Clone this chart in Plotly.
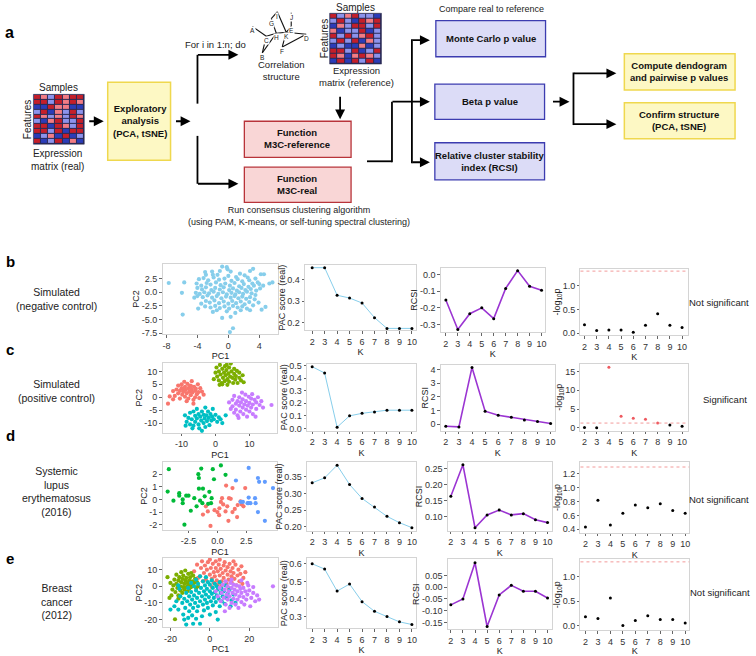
import plotly.graph_objects as go

W, H = 756, 656
FONT = "Liberation Sans, Arial, sans-serif"

# ---------------- data ----------------
K = [2, 3, 4, 5, 6, 7, 8, 9, 10]

pac_b = [0.455, 0.455, 0.327, 0.314, 0.291, 0.223, 0.173, 0.173, 0.173]
pac_c = [0.49, 0.44, 0.01, 0.10, 0.12, 0.13, 0.145, 0.145, 0.145]
pac_d = [0.332, 0.347, 0.385, 0.327, 0.285, 0.259, 0.231, 0.212, 0.197]
pac_e = [0.60, 0.57, 0.445, 0.485, 0.385, 0.33, 0.30, 0.27, 0.255]

rcsi_b = [-0.153, -0.33, -0.235, -0.20, -0.265, -0.083, 0.024, -0.07, -0.094]
rcsi_c = [-0.15, -0.2, 4.15, 0.95, 0.65, 0.5, 0.3, 0.2, 0.05]
rcsi_d = [0.164, 0.262, 0.066, 0.106, 0.121, 0.106, 0.11, 0.091, 0.082]
rcsi_e = [-0.075, -0.05, 0.104, -0.167, -0.033, 0.008, -0.017, -0.017, -0.046]

pval_b = [0.18, 0.06, 0.07, 0.07, 0.02, 0.17, 0.41, 0.17, 0.12]
pval_c = [0.1, 0.05, 16.1, 3.1, 2.6, 2.3, 1.35, 0.8, 0.45]
pval_d = [0.43, 0.82, 0.46, 0.63, 0.75, 0.71, 0.77, 0.67, 0.63]
pval_e = [0.18, 0.14, 0.56, 0.0, 0.1, 0.2, 0.12, 0.12, 0.05]
SIG = 1.301  # -log10(0.05)

pca_b = [(-7.7, 1.7), (-5.7, 1.8), (-6.0, -0.1), (-5.9, -4.1), (-4.4, -1.0), (-0.8, -4.7), (0.3, -4.5),
         (0.6, -6.6), (0.2, -7.3), (4.8, -2.7), (5.7, 1.8), (5.3, 1.6), (-3.9, -3.0), (4.3, -3.2), (2.8, -3.3),
         (-2.0, -3.6), (-0.8, 4.7), (-0.2, 4.6), (-0.1, 4.2), (-2.1, 3.8), (-2.0, 3.2), (-1.1, 3.9), (0.3, 3.8),
         (1.5, 3.4), (3.2, 4.3), (2.8, 3.9), (4.2, 3.3), (4.6, 3.3), (-3.0, 3.7), (-2.9, 3.2), (-1.4, 3.2),
         (0.0, 3.0), (1.0, 2.8), (2.1, 3.1), (2.5, 2.7), (3.5, 2.5), (3.8, 1.8),
         (-3.8, 2.4), (-3.2, 2.6), (-2.6, 2.2), (-1.9, 2.7), (-1.2, 2.3), (-0.5, 2.5), (0.4, 2.1), (1.2, 2.4),
         (1.8, 2.0), (2.7, 2.2), (3.1, 1.6), (4.0, 1.5),
         (-4.1, 1.6), (-3.5, 1.2), (-2.8, 1.7), (-2.3, 1.4), (-1.6, 1.8), (-1.0, 1.3), (-0.4, 1.6), (0.2, 1.2),
         (0.8, 1.7), (1.4, 1.1), (2.0, 1.5), (2.6, 1.0), (3.3, 1.2), (4.5, 1.2),
         (-4.0, 0.8), (-3.4, 0.5), (-2.9, 0.9), (-2.2, 0.4), (-1.7, 0.8), (-1.1, 0.5), (-0.6, 0.9), (0.1, 0.4),
         (0.6, 0.7), (1.1, 0.3), (1.7, 0.8), (2.2, 0.4), (2.9, 0.6), (3.6, 0.3), (4.1, 0.7),
         (-4.2, -0.1), (-3.7, -0.3), (-3.1, 0.0), (-2.5, -0.2), (-1.9, 0.1), (-1.3, -0.3), (-0.7, 0.0), (-0.2, -0.4),
         (0.4, -0.1), (0.9, -0.4), (1.4, 0.0), (1.9, -0.3), (2.4, 0.1), (3.0, -0.2), (3.5, -0.5),
         (-4.0, -0.7), (-3.3, -0.9), (-2.7, -0.6), (-2.1, -1.0), (-1.5, -0.7), (-0.9, -1.1), (-0.3, -0.8),
         (0.3, -1.0), (0.8, -0.7), (1.3, -1.1), (1.8, -0.8), (2.3, -1.2), (2.8, -0.9), (3.4, -1.3),
         (-3.5, -2.1), (-2.9, -1.6), (-2.4, -1.9), (-1.8, -1.5), (-1.2, -2.0), (-0.6, -1.7), (0.0, -2.1),
         (0.5, -1.6), (1.0, -2.0), (1.6, -1.7), (2.1, -2.2), (2.7, -1.8), (3.2, -2.4), (3.9, -1.9),
         (-3.0, -2.6), (-2.3, -2.8), (-1.7, -2.5), (-1.1, -2.9), (-0.5, -2.6), (0.1, -3.0), (0.6, -2.5),
         (1.2, -2.8), (1.8, -2.6), (2.4, -3.0), (-0.2, -3.5), (0.9, -3.8), (1.6, -3.3), (-1.5, -3.3)]

pca_c_red = [(-14, -2.5), (-13.5, 0.3), (-12.5, 2.4), (-12, 0.5), (-11.5, 3), (-11, 1.5), (-11, 4.5), (-10.5, -0.5),
             (-10.5, 2.5), (-10, 5), (-10, 3.5), (-9.8, 1), (-9.5, 2.2), (-9.2, 6), (-9, 4), (-9, 0.2), (-8.8, 2.8),
             (-8.5, 1.5), (-8.3, 5.2), (-8, 3.5), (-8, -0.5), (-7.7, 2.2), (-7.5, 4.5), (-7.3, 0.8), (-7, 3),
             (-7, 6.2), (-6.8, 1.8), (-6.5, -1), (-6.3, 4), (-6, 2.5), (-6, 0), (-5.8, 3.3), (-5.5, 1.2), (-5.2, 5),
             (-5, 2), (-4.8, -0.3), (-4.5, 3.5), (-4, 2.2), (-3.5, 1), (-6.5, -2.5), (-8.5, -1.5), (-12.5, -0.8),
             (-9.3, 3.3), (-7.2, 4.3)]
pca_c_green = [(-0.5, 7), (0, 9.5), (0.3, 11.5), (0.5, 8), (1, 6.5), (1, 10), (1.3, 12.5), (1.5, 8.8), (1.8, 5.5),
               (2, 11), (2.2, 7.5), (2.5, 9.5), (2.7, 6.2), (2.8, 12), (3, 8.5), (3.2, 10.5), (3.5, 4.8), (3.5, 7),
               (3.8, 9.2), (4, 11.5), (4, 6), (4.3, 8), (4.5, 13), (4.7, 10), (5, 7.5), (5.2, 5.5), (5.5, 9),
               (5.5, 11), (5.8, 6.8), (6, 8.2), (6.3, 10.2), (6.5, 5.5), (7, 7.5), (7, 9.5), (7.5, 6.5), (8, 8.5),
               (8.3, 5.8), (2, 5), (3.3, 12.5), (1.2, 4.8)]
pca_c_teal = [(-9, -7), (-8.5, -9.5), (-8, -8), (-7.5, -6), (-7.5, -10.5), (-7, -8.5), (-6.5, -11), (-6.5, -5.5),
              (-6, -7.2), (-6, -9.5), (-5.5, -4.5), (-5.5, -8.2), (-5, -6.5), (-5, -10.5), (-4.8, -12), (-4.5, -7.5),
              (-4.2, -9), (-4, -5.5), (-4, -13), (-3.5, -6.8), (-3.5, -10), (-3.2, -8.2), (-3, -4), (-3, -11.5),
              (-2.7, -7), (-2.5, -9.2), (-2.2, -5.5), (-2, -8), (-1.8, -10.8), (-1.5, -6.5), (-1.2, -9), (-1, -7.5),
              (-0.8, -4.5), (-0.5, -8.5), (0, -6.8), (0.5, -9.5), (1, -7.8), (2, -10), (3, -7), (1.5, -8.5),
              (-8.8, -11), (-6.8, -12)]
pca_c_purple = [(4, -2), (4.5, -4.5), (5, -1), (5, -3.5), (5.5, -6), (5.5, 0.5), (6, -2.5), (6, -4.8), (6.5, -1.5),
                (6.5, -7), (7, -3.2), (7, 0), (7.3, -5.5), (7.5, -2), (8, -4), (8, -0.8), (8.2, -6.5), (8.5, -2.8),
                (8.8, 1), (9, -4.8), (9, -1.5), (9.3, -7.5), (9.5, -3.2), (9.8, 0.2), (10, -5.5), (10, -2.2),
                (10.5, -0.5), (10.5, -4), (11, -6.5), (11, -2.8), (11.5, -1), (12, -4.5), (12, -2), (12.5, 0),
                (13, -3), (13.5, -1.5), (14, -4), (16.5, -3), (7.8, 1.8), (10.8, 1.2), (6.8, -8), (11.8, -7.5)]

pca_d_green = [(-4.2, 2.4), (-1.4, 2.45), (-0.4, 2.4), (0.3, 2.7), (-1.65, 2.0), (0.7, 1.95), (-1.6, 1.7),
               (-0.3, 1.6), (-4.3, 0.62), (-3.3, 0.5), (-3.3, 0.3), (-2.7, 0.3), (-2.5, 0.3), (-1.6, 0.85),
               (-1.25, 0.85), (-0.7, 0.6), (-1.1, 0.25), (-2.0, 0.1), (-1.5, -0.1), (-1.3, -0.3), (-3.8, -0.1),
               (-3.0, -0.3), (-3.0, 0.0), (-0.55, -0.3), (-2.3, -0.9), (-2.85, -2.0), (-1.8, -0.55), (-0.8, -0.35),
               (-0.5, 0.1)]
pca_d_red = [(0.75, 1.1), (1.3, 0.9), (2.4, 0.9), (0.4, 0.1), (0.3, -0.2), (1.0, 0.1), (1.15, 0.05), (0.5, -0.4),
             (0.17, -0.7), (-0.25, -0.85), (0.0, -1.0), (-1.25, -1.2), (-1.0, -0.55), (-0.83, -0.95), (-0.6, -2.1),
             (0.7, -0.95), (1.3, -1.0), (0.95, -1.7), (1.7, -1.4), (1.5, -0.75), (2.0, -0.15), (1.75, -0.45),
             (2.1, -0.4), (2.25, -0.55), (0.85, -0.55), (0.15, -1.25)]
pca_d_blue = [(2.7, 2.5), (1.6, 1.5), (3.5, 1.7), (3.6, 1.4), (4.1, 1.4), (4.8, 0.9), (2.0, -0.2), (2.2, -0.2),
              (2.7, -0.3), (2.85, -0.3), (3.25, 0.1), (3.3, -0.3), (2.7, 0.15), (3.5, -1.0), (4.1, -1.7), (2.6, -0.3)]

pca_e_red = [(-8, 9), (-6.5, 13), (-5, 6), (-4.5, 11), (-4, 15), (-3, 8), (-2.5, 12.5), (-2, 4), (-1.5, 10),
             (-1, 14.5), (0, 7), (0, 16), (0.5, 11), (1, 4.5), (1.5, 13.5), (2, 8.5), (2.5, 6), (3, 15), (3, 11),
             (3.5, 3.5), (4, 9), (4.5, 13), (5, 6.5), (5, 16), (5.5, 10.5), (6, 3), (6.5, 8), (7, 12.5), (7, 5),
             (7.5, 14.5), (8, 9.5), (8.5, 1.5), (9, 7), (9, 11.5), (9.5, 4), (10, 13.5), (10.5, 9), (11, 2.5),
             (11, 6), (11.5, 11), (12, 8), (12.5, 4.5), (13, 13), (13.5, 0.5), (14, 6.5), (14.5, 10), (15, 3),
             (15.5, 7.5), (16, 12), (17, 5), (18, 8.5), (2, 2), (-3.5, 3), (6, 0.5), (9.5, -1), (16.5, 1.5),
             (12, 15), (-6, 5), (4, 1), (1, -0.5)]
pca_e_green = [(-21.5, 5.5), (-20, 2), (-19, -2), (-18.5, 0.5), (-18, 4), (-17.5, -3.5), (-17, 7), (-17, 1.5),
               (-16.5, -1), (-16, 3.5), (-16, -5.5), (-15.5, 5.5), (-15, 0), (-15, -2.5), (-14.5, 8.5), (-14.5, 2.5),
               (-14, -4), (-14, 4.5), (-13.5, -0.5), (-13.5, 6.5), (-13, 1.5), (-13, -2), (-12.5, 3.5), (-12.5, 9.5),
               (-12, -0.5), (-12, 5), (-11.5, 2), (-11.5, -3), (-11, 7.5), (-11, 0.5), (-10.5, 3.5), (-10.5, -1.5),
               (-10, 5.5), (-10, 1), (-9.5, 8), (-9.5, -0.5), (-9, 3), (-8.5, 6.5), (-8.5, 0.5), (-8, 2),
               (-7.5, 4.5), (-7, -1), (-6.5, 2.5), (-6, 0), (-17.7, -19.8), (-19.5, -5.5), (-20.5, -7), (-16, -7.5)]
pca_e_teal = [(-18, -12), (-17, -9), (-16, -14), (-15, -6), (-14, -10), (-13.5, -17), (-13, -7.5), (-12.5, -13),
              (-12, -4), (-11.5, -9), (-11, -1), (-10.5, -15), (-10.5, -6), (-10, -11), (-9.5, 2), (-9.5, -3.5),
              (-9, -8), (-9, -17.5), (-8.5, -22.5), (-8.5, -13), (-8, 0), (-8, -5.5), (-7.5, -10), (-7, 4),
              (-7, -2.5), (-6.5, -7), (-6.5, -15), (-6, -12), (-6, 1.5), (-5.5, -4), (-5, -9), (-5, -22.5), (-5, 6),
              (-4.5, -1), (-4, -6), (-4, -18), (-3.5, 3), (-3.5, -11), (-3, -3), (-3, -14.5), (-2.5, 0.5), (-2.5, -8),
              (-2, -5), (-2, 5.5), (-1.5, -10), (-1.5, -1.5), (-1, 2.5), (-1, -13), (-0.5, -6.5), (0, -3), (0, 1),
              (0, -17), (0.5, -9), (1, -4.5), (1, 3.5), (1.5, -11.5), (1.5, -1), (2, -7), (2.5, 1.5), (2.5, -3.5),
              (3, -9.5), (3, -15.5), (3.5, -5.5), (3.5, 0), (4, -2), (4.5, -7.5), (5, -12), (5, 2.5), (5.5, -4),
              (6, -9), (6, -1.5), (6.5, -6), (7, -3), (7.5, -10.5), (8, 0.5), (8.5, -7), (9, -4.5), (10, -2),
              (10.5, -12), (11, -8.5), (12, -5), (13, -10), (-13, -20), (-11, -19), (-7, -19.5), (4, -20),
              (-15.5, -1.5), (-16, 0.5), (-12, -23), (-20, -14)]
pca_e_purple = [(3, -3), (4, -6), (5, -1), (5.5, -9), (6, -4), (6.5, 1), (7, -7), (7.5, -2), (7.6, -15), (8, -11),
                (8.5, -5), (9, 0), (9, -8), (9.5, -3), (10, -13), (10, -6), (10.5, 2), (11, -1), (11, -10),
                (11.5, -4), (12, -7.5), (12, 1), (12.5, -2), (13, -11), (13, -5), (13.5, 0.5), (14, -8), (14, -3),
                (14.5, -13), (15, -6), (15, 0), (15.5, -1.5), (16, -9.5), (16, -4), (17, -6.5), (17, -1),
                (17.5, -11), (18, -3), (18.5, -8), (19, -5), (19.5, 0.5), (20, -2.5), (21, -7), (22, -4), (23, -9),
                (24, -5.5), (25, -8), (32, 0), (20.5, -12), (19, 2), (8, 3), (11, 4), (16, 3.5), (22, -0.5)]

# expression matrices (-2 dark blue, -1 light blue, 1 light red, 2 dark red)
expr_real = [[2, 1, -1, 2, 1, 2, 2],
             [2, 2, -1, 2, 1, 2, 1],
             [-2, -2, 2, 1, 1, -2, -2],
             [-1, 2, -2, 1, -1, 2, -1],
             [2, 1, -1, 1, -1, 2, 1],
             [-1, -2, 1, 2, -1, -1, 2],
             [2, 2, -2, 2, 1, -1, 2],
             [2, 2, -1, 2, -2, 2, 2],
             [-2, -1, 1, -2, 2, -2, -1],
             [2, -2, -1, 2, -2, 1, -2]]
expr_ref = [[2, -1, 1, 2, -1, -1, -2],
            [-1, 2, -1, -2, 2, 1, 2],
            [-2, 1, -1, 2, 2, -1, 2],
            [1, -2, -1, -1, 2, -2, -1],
            [2, -1, 2, -1, 1, 2, -1],
            [-1, 2, -1, 2, -2, 1, -1],
            [-2, -1, -2, -2, 1, -2, -1],
            [2, 2, -1, 2, -2, -1, 2],
            [2, 1, -2, 1, 2, 1, -1],
            [-2, 2, -2, 2, -1, 2, -2]]

net_nodes = {"A": (253, 24), "B": (263, 51), "C": (267, 34), "D": (307, 32), "E": (292, 24), "F": (283, 45),
             "G": (272, 16), "H": (277, 31), "I": (278, 9), "J": (292, 10), "K": (287, 30)}
net_edges = [("A", "C"), ("C", "B"), ("C", "H"), ("B", "H"), ("H", "G"), ("G", "I"), ("I", "K"), ("H", "K"),
             ("J", "E"), ("E", "K"), ("K", "D"), ("D", "F"), ("F", "K")]

# ---------------- helpers ----------------
def X(p):
    return p / W


def Y(p):
    return 1 - p / H


shapes, anns = [], []


def txt(x, y, s, size=10, angle=0, color="#222222", xanchor="center", yanchor="middle"):
    anns.append(dict(x=X(x), y=Y(y), xref="paper", yref="paper", text=s, showarrow=False, textangle=angle,
                     font=dict(size=size, color=color, family=FONT), xanchor=xanchor, yanchor=yanchor,
                     align="center"))


def line(x0, y0, x1, y1, w=1.8, color="black"):
    shapes.append(dict(type="line", xref="paper", yref="paper", x0=X(x0), y0=Y(y0), x1=X(x1), y1=Y(y1),
                       line=dict(color=color, width=w)))


def arrow(x0, y0, x1, y1):
    anns.append(dict(x=X(x1), y=Y(y1), xref="paper", yref="paper", ax=x0 - x1, ay=y0 - y1, text="",
                     showarrow=True, arrowhead=2, arrowsize=1.1, arrowwidth=1.8, arrowcolor="black", standoff=0))


def box(x0, y0, x1, y1, fill, border, w=1.3, layer="above"):
    shapes.append(dict(type="rect", xref="paper", yref="paper", x0=X(x0), y0=Y(y1), x1=X(x1), y1=Y(y0),
                       fillcolor=fill, line=dict(color=border, width=w), layer=layer))


fig = go.Figure()
layout = {}

TXTC = "#333333"
AX = dict(showline=True, mirror=True, linecolor="#d4d4d4", linewidth=1, ticks="outside", ticklen=2.5,
          tickcolor="#666666", tickwidth=0.8, showgrid=False, zeroline=False, color=TXTC,
          tickfont=dict(size=9, color=TXTC, family=FONT))


def ref(i):
    return ("x", "y") if i == 1 else (f"x{i}", f"y{i}")


def setup(i, dom, xr, yr, xt, yt, xtitle, ytitle, xtt=None, ytt=None):
    x0, x1, y0, y1 = dom
    xa = dict(AX, domain=[X(x0), X(x1)], range=xr, tickvals=xt, anchor=ref(i)[1],
              title=dict(text=xtitle, font=dict(size=9, color="#222222", family=FONT), standoff=3))
    ya = dict(AX, domain=[Y(y1), Y(y0)], range=yr, tickvals=yt, anchor=ref(i)[0],
              title=dict(text=ytitle, font=dict(size=9, color="#222222", family=FONT), standoff=0))
    if xtt:
        xa["ticktext"] = xtt
    if ytt:
        ya["ticktext"] = ytt
    layout["xaxis" if i == 1 else f"xaxis{i}"] = xa
    layout["yaxis" if i == 1 else f"yaxis{i}"] = ya


def pts(i, data, color, size=4.2):
    xr, yr = ref(i)
    fig.add_trace(go.Scatter(x=[p[0] for p in data], y=[p[1] for p in data], mode="markers",
                             marker=dict(color=color, size=size, line=dict(width=0)), xaxis=xr, yaxis=yr,
                             hoverinfo="skip"))


def curve(i, vals, color, width):
    xr, yr = ref(i)
    fig.add_trace(go.Scatter(x=K, y=vals, mode="lines+markers", line=dict(color=color, width=width),
                             marker=dict(color="black", size=3), xaxis=xr, yaxis=yr, hoverinfo="skip"))


def pdots(i, vals):
    xr, yr = ref(i)
    cols = ["#ee5a60" if v > SIG else "black" for v in vals]
    fig.add_trace(go.Scatter(x=K, y=vals, mode="markers", marker=dict(color=cols, size=3),
                             xaxis=xr, yaxis=yr, hoverinfo="skip"))
    shapes.append(dict(type="line", xref=f"{xr} domain", yref=yr, x0=0, x1=1, y0=SIG, y1=SIG,
                       line=dict(color="#f29a9a", width=1, dash="dot")))


SKY = "#87CEEB"
PURP = "#9b35d2"
C4 = ["#F8766D", "#7CAE00", "#00BFC4", "#C77CFF"]
C3 = ["#F8766D", "#00BA38", "#619CFF"]
LOGP = "-log<sub>10</sub>p"

# ---------------- row b ----------------
setup(1, (163, 279, 267, 339), [-8.5, 6.45], [-7.7, 5.2], [-8, -4, 0, 4], [-7.5, -5, -2.5, 0, 2.5], "PC1", "PC2",
      xtt=["-8", "-4", "0", "4"], ytt=["-7.5", "-5.0", "-2.5", "0.0", "2.5"])
pts(1, pca_b, SKY)
setup(2, (306, 417, 268, 335), [1.44, 10.32], [0.164, 0.468], K, [0.2, 0.3, 0.4], "K", "PAC score (real)",
      ytt=["0.2", "0.3", "0.4"])
curve(2, pac_b, SKY, 1)
setup(3, (442, 546, 271, 337), [1.58, 10.25], [-0.347, 0.041], K, [-0.3, -0.2, -0.1, 0.0], "K", "RCSI",
      ytt=["-0.3", "-0.2", "-0.1", "0.0"])
curve(3, rcsi_b, PURP, 1.6)
setup(4, (582, 690, 272, 340), [1.67, 10.5], [-0.04, 1.35], K, [0, 0.5, 1.0], "K", LOGP,
      ytt=["0.0", "0.5", "1.0"])
pdots(4, pval_b)

# ---------------- row c ----------------
setup(5, (163, 278, 368, 440), [-15.6, 18.2], [-13.8, 13.4], [-10, 0, 10], [-10, -5, 0, 5, 10], "PC1", "PC2",
      xtt=["-10", "0", "10"], ytt=["-10", "-5", "0", "5", "10"])
pts(5, pca_c_red, C4[0])
pts(5, pca_c_green, C4[1])
pts(5, pca_c_teal, C4[2])
pts(5, pca_c_purple, C4[3])
setup(6, (308, 417, 369, 438), [1.6, 10.32], [-0.02, 0.515], K, [0, 0.1, 0.2, 0.3, 0.4, 0.5], "K",
      "PAC score (real)", ytt=["0.0", "0.1", "0.2", "0.3", "0.4", "0.5"])
curve(6, pac_c, SKY, 1)
setup(7, (442, 556, 370, 438), [1.62, 10.3], [-0.5, 4.36], K, [0, 1, 2, 3, 4], "K", "RCSI")
curve(7, rcsi_c, PURP, 1.6)
setup(8, (582, 690, 369, 438), [1.67, 10.5], [-0.8, 17.1], K, [0, 5, 10, 15], "K", LOGP)
pdots(8, pval_c)

# ---------------- row d ----------------
setup(9, (163, 278, 470, 539), [-4.74, 5.17], [-2.4, 2.95], [-2.5, 0, 2.5], [-2, -1, 0, 1, 2], "PC1", "PC2",
      xtt=["-2.5", "0.0", "2.5"], ytt=["-2", "-1", "0", "1", "2"])
pts(9, pca_d_red, C3[0])
pts(9, pca_d_green, C3[1])
pts(9, pca_d_blue, C3[2])
setup(10, (308, 417, 470, 540), [1.6, 10.32], [0.188, 0.394], K, [0.2, 0.25, 0.3, 0.35], "K", "PAC score (real)",
      ytt=["0.20", "0.25", "0.30", "0.35"])
curve(10, pac_d, SKY, 1)
setup(11, (449, 553, 470, 540), [1.75, 10.33], [0.057, 0.27], K, [0.1, 0.15, 0.2, 0.25], "K", "RCSI",
      ytt=["0.10", "0.15", "0.20", "0.25"])
curve(11, rcsi_d, PURP, 1.6)
setup(12, (582, 691, 470, 542), [1.6, 10.32], [0.35, 1.37], K, [0.4, 0.6, 0.8, 1.0, 1.2], "K", LOGP,
      ytt=["0.4", "0.6", "0.8", "1.0", "1.2"])
pdots(12, pval_d)

# ---------------- row e ----------------
setup(13, (163, 279, 568, 639), [-24, 34.7], [-24.7, 17], [-20, 0, 20], [-20, -10, 0, 10], "PC1", "PC2",
      xtt=["-20", "0", "20"], ytt=["-20", "-10", "0", "10"])
pts(13, pca_e_red, C4[0])
pts(13, pca_e_green, C4[1])
pts(13, pca_e_teal, C4[2])
pts(13, pca_e_purple, C4[3])
setup(14, (308, 417, 568, 640), [1.6, 10.32], [0.233, 0.633], K, [0.3, 0.4, 0.5, 0.6], "K", "PAC score (real)",
      ytt=["0.3", "0.4", "0.5", "0.6"])
curve(14, pac_e, SKY, 1)
setup(15, (449, 553, 569, 641), [1.75, 10.33], [-0.179, 0.12], K, [-0.15, -0.1, -0.05, 0, 0.05], "K", "RCSI",
      ytt=["-0.15", "-0.10", "-0.05", "0.00", "0.05"])
curve(15, rcsi_e, PURP, 1.6)
setup(16, (582, 691, 569, 642), [1.6, 10.32], [-0.1, 1.36], K, [0, 0.5, 1.0], "K", LOGP,
      ytt=["0.0", "0.5", "1.0"])
pdots(16, pval_e)

# ---------------- heatmaps ----------------
HCS = [[0, "#2b3cb8"], [0.125, "#2b3cb8"], [0.125, "#8c93ec"], [0.5, "#8c93ec"], [0.5, "#f27c84"],
       [0.875, "#f27c84"], [0.875, "#c41f2a"], [1, "#c41f2a"]]


def heat(i, dom, z):
    x0, x1, y0, y1 = dom
    xr, yr = ref(i)
    box(x0 - 0.5, y0 - 0.5, x1 + 0.5, y1 + 0.5, "#2a2a55", "#2a2a55", w=0.5, layer="below")
    fig.add_trace(go.Heatmap(z=z, colorscale=HCS, zmin=-2, zmax=2, showscale=False, xgap=1, ygap=1,
                             xaxis=xr, yaxis=yr, hoverinfo="skip"))
    hid = dict(visible=False, showgrid=False, zeroline=False)
    layout[f"xaxis{i}"] = dict(hid, domain=[X(x0), X(x1)], anchor=yr, range=[-0.5, 6.5])
    layout[f"yaxis{i}"] = dict(hid, domain=[Y(y1), Y(y0)], anchor=xr, range=[9.5, -0.5])


heat(17, (34, 84, 94, 144), expr_real)
heat(18, (331, 382, 11, 62), expr_ref)

# ---------------- flowchart ----------------
txt(3, 30, "<b>a</b>", size=16, color="black", xanchor="left")
txt(59, 86, "Samples", size=10)
txt(27, 119, "Features", size=10, angle=-90)
txt(58, 161, "Expression<br>matrix (real)", size=10)
arrow(88, 121, 104, 121)
box(108, 81, 171, 161, "#fdf8c4", "#efd84e", w=1.5)
txt(140, 121, "<b>Exploratory<br>analysis<br>(PCA, tSNE)</b>", size=9.5, color="#111111")
arrow(175, 121, 191, 121)
line(198, 103, 198, 53)
arrow(197.1, 53, 239, 53)
line(198, 136, 198, 185)
arrow(197.1, 185, 239, 185)
txt(216, 42, "For i in 1:n; do", size=9.5)

for a, b in net_edges:
    (xa, ya), (xb, yb) = net_nodes[a], net_nodes[b]
    line(xa, ya, xb, yb, w=1.1, color="#111111")
for n, (xn, yn) in net_nodes.items():
    anns.append(dict(x=X(xn), y=Y(yn), xref="paper", yref="paper", text=n, showarrow=False,
                     font=dict(size=6.5, color="#222222", family=FONT), bgcolor="white", borderpad=0))
txt(282, 69, "Correlation<br>structure", size=9.5)

txt(356, 5, "Samples", size=10)
txt(325, 37, "Features", size=10, angle=-90)
txt(357, 75, "Expression<br>matrix (reference)", size=9.5)
arrow(341, 95, 341, 119)

box(245, 121, 352, 158, "#f9d6d6", "#b8343a", w=1.3)
txt(298, 139, "<b>Function<br>M3C-reference</b>", size=9.5, color="#111111")
box(245, 168, 352, 204, "#f9d6d6", "#b8343a", w=1.3)
txt(298, 186, "<b>Function<br>M3C-real</b>", size=9.5, color="#111111")
txt(300, 218, "Run consensus clustering algorithm<br>(using PAM, K-means, or self-tuning spectral clustering)",
    size=9)

line(368, 162, 393, 162)
line(393, 162.9, 393, 101)
arrow(392.1, 101, 431, 101)
line(413, 37.1, 413, 163.9)
arrow(412.1, 38, 431, 38)
arrow(412.1, 163, 431, 163)

txt(493, 6, "Compare real to reference", size=9)
box(437, 18, 547, 55, "#dcdcf7", "#3c3cb0", w=1.3)
txt(492, 36, "<b>Monte Carlo p value</b>", size=9.5, color="#111111")
box(436, 83, 546, 119, "#dcdcf7", "#3c3cb0", w=1.3)
txt(491, 101, "<b>Beta p value</b>", size=9.5, color="#111111")
box(436, 143, 546, 181, "#dcdcf7", "#3c3cb0", w=1.3)
txt(491, 162, "<b>Relative cluster stability<br>index (RCSI)</b>", size=9.5, color="#111111")

arrow(553, 101, 571, 101)
line(575, 71.1, 575, 124.9)
arrow(574.1, 72, 618, 72)
arrow(574.1, 124, 618, 124)
box(626, 52, 737, 89, "#fdf8c4", "#efd84e", w=1.5)
txt(681, 70, "<b>Compute dendogram<br>and pairwise p values</b>", size=9.5, color="#111111")
box(626, 102, 737, 139, "#fdf8c4", "#efd84e", w=1.5)
txt(681, 120, "<b>Confirm structure<br>(PCA, tSNE)</b>", size=9.5, color="#111111")

# ---------------- row labels ----------------
for lab, yy in [("b", 265), ("c", 355), ("d", 443), ("e", 568)]:
    txt(4, yy, f"<b>{lab}</b>", size=15, color="black", xanchor="left")
txt(57, 303, "Simulated<br>(negative control)", size=10.5)
txt(57, 397, "Simulated<br>(positive control)", size=10.5)
txt(57, 500, "Systemic<br>lupus<br>erythematosus<br>(2016)", size=10.5)
txt(57, 613, "Breast<br>cancer<br>(2012)", size=10.5)
txt(753, 307, "Not significant", size=9.5, xanchor="right")
txt(751, 406, "Significant", size=9.5, xanchor="right")
txt(753, 508, "Not significant", size=9.5, xanchor="right")
txt(754, 603, "Not significant", size=9.5, xanchor="right")

fig.update_layout(width=W, height=H, margin=dict(l=0, r=0, t=0, b=0), paper_bgcolor="white",
                  plot_bgcolor="white", showlegend=False, shapes=shapes, annotations=anns,
                  font=dict(family=FONT, color=TXTC), **layout)
fig.write_html("out.html", config={"displayModeBar": False},
               post_script="document.body.style.margin='0';document.body.style.overflow='hidden';")
